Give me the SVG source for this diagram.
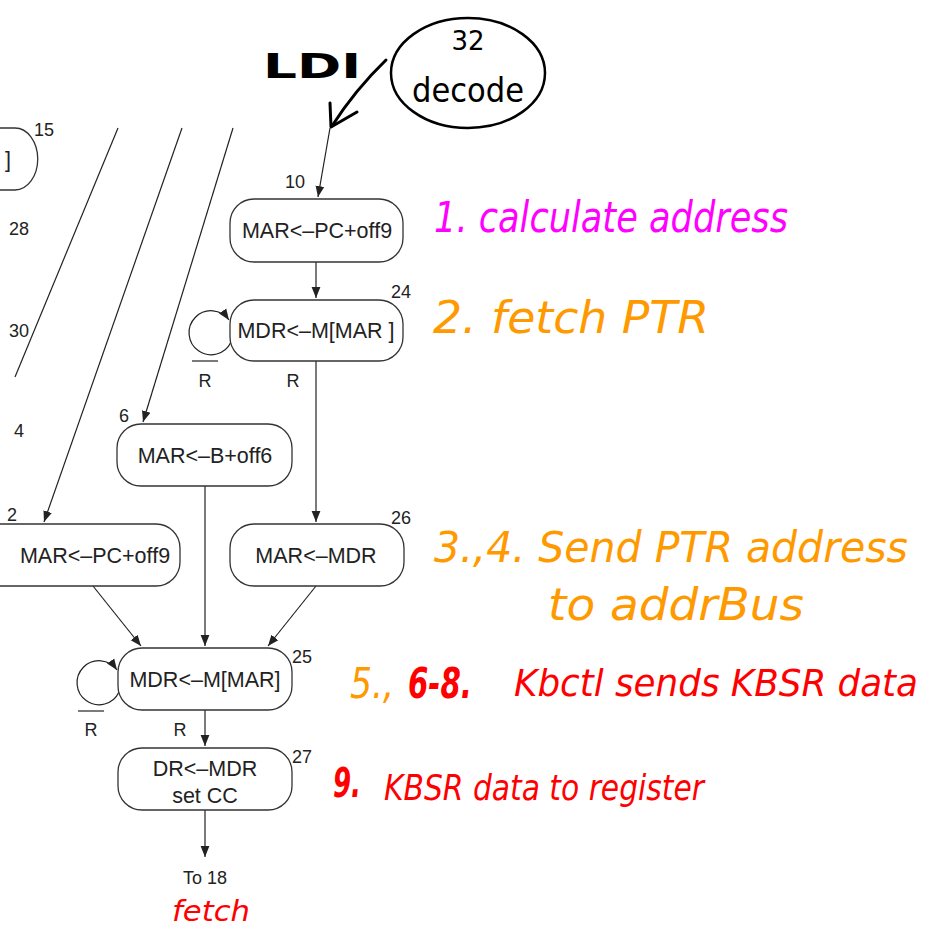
<svg xmlns="http://www.w3.org/2000/svg" width="947" height="930" viewBox="0 0 947 930">
  <defs>
    <marker id="ah" viewBox="0 0 10 10" refX="10" refY="5" markerWidth="11" markerHeight="11" markerUnits="userSpaceOnUse" orient="auto">
      <path d="M0,1 L10,5 L0,9 z" fill="#222"/>
    </marker>
    <style>
      .st { fill: #fff; stroke: #333; stroke-width: 1.3; }
      .t { font-family: "Liberation Sans", Arial, sans-serif; font-size: 21.5px; fill: #222; text-anchor: middle; }
      .n { font-family: "Liberation Sans", Arial, sans-serif; font-size: 18px; fill: #222; }
      .c { fill: none; stroke: #222; stroke-width: 1.2; }
      .hw { font-family: "DejaVu Sans Condensed", "DejaVu Sans", sans-serif; font-style: italic; }
      .mag { fill: #ff00ff; }
      .org { fill: #ff9900; }
      .red { fill: #ff0000; }
    </style>
  </defs>
  <rect width="947" height="930" fill="#fff"/>

  <!-- connectors -->
  <g id="connectors">
    <line class="c" x1="118" y1="128" x2="15" y2="377"/>
    <line class="c" x1="182" y1="128" x2="44" y2="522" marker-end="url(#ah)"/>
    <line class="c" x1="233" y1="128" x2="143" y2="422" marker-end="url(#ah)"/>
    <line class="c" x1="330" y1="128" x2="318" y2="197" marker-end="url(#ah)"/>
    <line class="c" x1="316" y1="262" x2="316" y2="298" marker-end="url(#ah)"/>
    <path class="c" d="M231,342 A22,22 0 1 1 229,320" marker-end="url(#ah)"/>
    <line class="c" x1="316" y1="361" x2="316" y2="522" marker-end="url(#ah)"/>
    <line class="c" x1="205" y1="486" x2="205" y2="646" marker-end="url(#ah)"/>
    <line class="c" x1="93" y1="586" x2="141" y2="646" marker-end="url(#ah)"/>
    <line class="c" x1="316" y1="586" x2="268" y2="646" marker-end="url(#ah)"/>
    <path class="c" d="M119,692 A22,22 0 1 1 117,670" marker-end="url(#ah)"/>
    <line class="c" x1="205" y1="710" x2="205" y2="746" marker-end="url(#ah)"/>
    <line class="c" x1="205" y1="810" x2="205" y2="857" marker-end="url(#ah)"/>
  </g>

  <!-- clipped neighbours on the left edge -->
  <g id="node15">
    <path class="st" d="M0,128 L15,128 A22,30 0 0 1 15,190 L0,190" fill="none"/>
    <text class="t" x="8" y="167" text-anchor="start">]</text>
    <text class="n" x="34" y="136">15</text>
  </g>
  <g id="labels-left">
    <text class="n" x="9" y="235">28</text>
    <text class="n" x="9" y="337">30</text>
    <text class="n" x="14" y="437">4</text>
  </g>

  <g id="node10">
    <rect class="st" x="230" y="199" width="173" height="63" rx="24"/>
    <text class="t" x="317" y="238">MAR&lt;–PC+off9</text>
    <text class="n" x="285" y="188">10</text>
  </g>

  <g id="node24">
    <rect class="st" x="230" y="300" width="173" height="61" rx="24"/>
    <text class="t" x="316" y="338">MDR&lt;–M[MAR ]</text>
    <text class="n" x="391" y="298">24</text>
    <line x1="192" y1="361" x2="218" y2="361" stroke="#222" stroke-width="1.2"/>
    <text class="n" x="205" y="387" text-anchor="middle">R</text>
    <text class="n" x="293" y="387" text-anchor="middle">R</text>
  </g>

  <g id="node6">
    <rect class="st" x="117" y="424" width="175" height="62" rx="24"/>
    <text class="t" x="205" y="463">MAR&lt;–B+off6</text>
    <text class="n" x="119" y="422">6</text>
  </g>

  <g id="node22">
    <rect class="st" x="-30" y="524" width="210" height="62" rx="24"/>
    <text class="t" x="95" y="563">MAR&lt;–PC+off9</text>
    <text class="n" x="7" y="521">2</text>
  </g>

  <g id="node26">
    <rect class="st" x="230" y="524" width="174" height="62" rx="24"/>
    <text class="t" x="316" y="563">MAR&lt;–MDR</text>
    <text class="n" x="391" y="524">26</text>
  </g>

  <g id="node25">
    <rect class="st" x="118" y="648" width="174" height="62" rx="24"/>
    <text class="t" x="205" y="687">MDR&lt;–M[MAR]</text>
    <text class="n" x="292" y="663">25</text>
    <line x1="78" y1="711" x2="104" y2="711" stroke="#222" stroke-width="1.2"/>
    <text class="n" x="91" y="736" text-anchor="middle">R</text>
    <text class="n" x="180" y="736" text-anchor="middle">R</text>
  </g>

  <g id="node27">
    <rect class="st" x="118" y="748" width="174" height="62" rx="24"/>
    <text class="t" x="205" y="776">DR&lt;–MDR</text>
    <text class="t" x="205" y="803">set CC</text>
    <text class="n" x="292" y="763">27</text>
  </g>

  <g id="to18">
    <text class="n" x="205" y="884" text-anchor="middle">To 18</text>
    <text class="hw red" x="172" y="921" font-size="29" textLength="78" lengthAdjust="spacingAndGlyphs">fetch</text>
  </g>

  <!-- hand-drawn decode state -->
  <g id="decode">
    <ellipse cx="468" cy="73" rx="77" ry="55" fill="none" stroke="#000" stroke-width="2.5"/>
    <text x="468" y="50" font-family="DejaVu Sans, sans-serif" font-size="26" text-anchor="middle" fill="#000">32</text>
    <text x="468" y="102" font-family="DejaVu Sans, sans-serif" font-size="34" text-anchor="middle" fill="#000" textLength="112" lengthAdjust="spacingAndGlyphs">decode</text>
    <text x="263" y="78" font-family="DejaVu Sans, sans-serif" font-weight="bold" font-size="34" fill="#000" textLength="98" lengthAdjust="spacingAndGlyphs">LDI</text>
    <path d="M386,60 Q355,90 332,126" fill="none" stroke="#000" stroke-width="3" stroke-linecap="round"/>
    <path d="M330,103 L331,127 L357,112" fill="none" stroke="#000" stroke-width="3" stroke-linecap="round" stroke-linejoin="round"/>
  </g>

  <!-- step notes -->
  <g id="notes">
    <text class="hw mag" x="434" y="232" font-size="42" textLength="354" lengthAdjust="spacingAndGlyphs">1. calculate address</text>
    <text class="hw org" x="433" y="333" font-size="44" textLength="276" lengthAdjust="spacingAndGlyphs">2. fetch PTR</text>
    <text class="hw org" x="434" y="562" font-size="42" textLength="474" lengthAdjust="spacingAndGlyphs">3.,4. Send PTR address</text>
    <text class="hw org" x="548" y="620" font-size="44" textLength="256" lengthAdjust="spacingAndGlyphs">to addrBus</text>
    <text class="hw org" x="350" y="698" font-size="42" textLength="44" lengthAdjust="spacingAndGlyphs">5.,</text>
    <text class="hw red" x="408" y="698" font-size="42" font-weight="bold" textLength="64" lengthAdjust="spacingAndGlyphs">6-8.</text>
    <text class="hw red" x="514" y="696" font-size="38" textLength="404" lengthAdjust="spacingAndGlyphs">Kbctl sends KBSR data</text>
    <text class="hw red" x="333" y="797" font-size="40" font-weight="bold" textLength="28" lengthAdjust="spacingAndGlyphs">9.</text>
    <text class="hw red" x="384" y="800" font-size="36" textLength="320" lengthAdjust="spacingAndGlyphs">KBSR data to register</text>
  </g>
</svg>
